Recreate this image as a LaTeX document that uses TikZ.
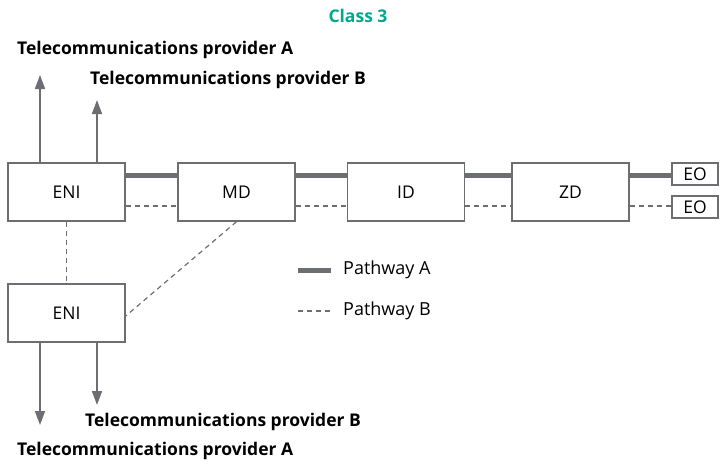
\documentclass[tikz,border=0pt]{standalone}
\usepackage{fontspec}
\setmainfont{Open Sans}
\usetikzlibrary{arrows.meta}
\definecolor{lgray}{HTML}{6D6E71}
\definecolor{teal3}{HTML}{00A88F}
\begin{document}
\begin{tikzpicture}[x=1pt,y=-1pt,
  box/.style={draw=lgray,line width=1.4pt,fill=white,minimum width=117pt,minimum height=58pt,inner sep=0pt,font=\fontsize{17.5}{20}\selectfont},
  eobox/.style={draw=lgray,line width=1.4pt,fill=white,minimum width=46pt,minimum height=22pt,inner sep=0pt,font=\fontsize{17.5}{20}\selectfont},
  pathA/.style={draw=lgray,line width=5pt},
  pathB/.style={draw=lgray,line width=1.2pt,dash pattern=on 5pt off 4pt},
  arr/.style={draw=lgray,line width=1.6pt,-{Triangle[length=14pt,width=10pt]}},
  lbl/.style={anchor=west,inner sep=0pt,font=\fontsize{17.5}{20}\selectfont\bfseries},
  leg/.style={anchor=west,inner sep=0pt,font=\fontsize{18}{20}\selectfont}]
\useasboundingbox (0,0) rectangle (726,464);
% boxes
\node[box] (eni1) at (66.5,192) {ENI};
\node[box] (md) at (236.5,192) {MD};
\node[box] (id) at (406,192) {ID};
\node[box] (zd) at (570.5,192) {ZD};
\node[box] (eni2) at (66.5,313) {ENI};
\node[eobox] (eo1) at (695,174) {EO};
\node[eobox] (eo2) at (695,207) {EO};
% pathway A
\draw[pathA] ([yshift=17pt]eni1.east) -- ([yshift=17pt]md.west);
\draw[pathA] ([yshift=17pt]md.east) -- ([yshift=17pt]id.west);
\draw[pathA] ([yshift=17pt]id.east) -- ([yshift=17pt]zd.west);
\draw[pathA] ([yshift=17pt]zd.east) -- ([yshift=17pt]zd.east -| eo1.west);
% pathway B
\draw[pathB] ([yshift=-14pt]eni1.east) -- ([yshift=-14pt]md.west);
\draw[pathB] ([yshift=-14pt]md.east) -- ([yshift=-14pt]id.west);
\draw[pathB] ([yshift=-14pt]id.east) -- ([yshift=-14pt]zd.west);
\draw[pathB] ([yshift=-14pt]zd.east) -- ([yshift=-14pt]zd.east -| eo2.west);
\draw[pathB] (eni1.south) -- (eni2.north);
\draw[pathB] (md.south) -- ([yshift=-3pt]eni2.east);
% arrows
\coordinate (tA1) at (40,75);
\coordinate (tB1) at (97,100);
\coordinate (tA2) at (40,425);
\coordinate (tB2) at (97,405);
\draw[arr] (eni1.north -| tA1) -- (tA1);
\draw[arr] (eni1.north -| tB1) -- (tB1);
\draw[arr] (eni2.south -| tA2) -- (tA2);
\draw[arr] (eni2.south -| tB2) -- (tB2);
% labels
\node[font=\fontsize{17.5}{20}\selectfont\bfseries,text=teal3,inner sep=0pt] (title) at (358,16) {Class 3};
\node[lbl] (la1) at (17,50) {Telecommunications provider A};
\node[lbl] (lb1) at (90,80) {Telecommunications provider B};
\node[lbl] (lb2) at (85,422) {Telecommunications provider B};
\node[lbl] (la2) at (17,451) {Telecommunications provider A};
% legend
\coordinate (legA1) at (298,270);
\coordinate (legA2) at (331,270);
\coordinate (legB1) at (298,311);
\coordinate (legB2) at (331,311);
\draw[pathA] (legA1) -- (legA2);
\draw[pathB] (legB1) -- (legB2);
\node[leg] (tlegA) at (343,270) {Pathway A};
\node[leg] (tlegB) at (343,311) {Pathway B};
\end{tikzpicture}
\end{document}
